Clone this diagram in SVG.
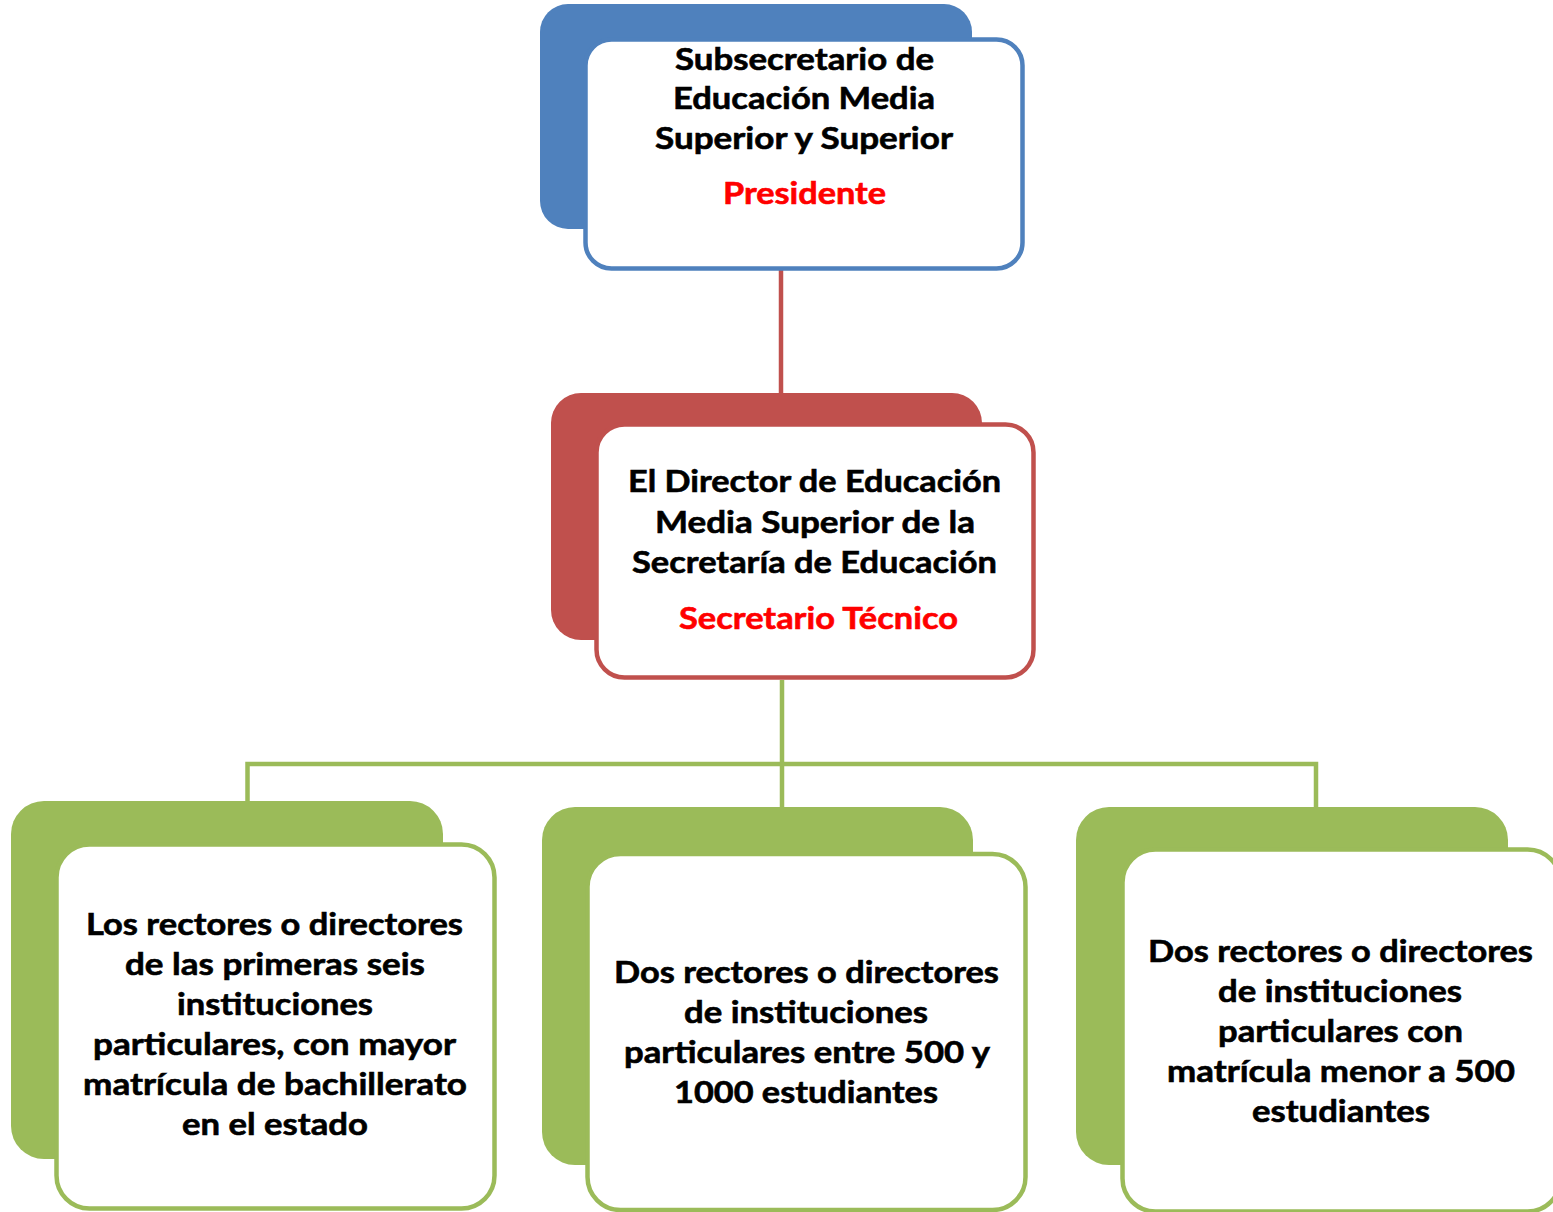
<svg xmlns="http://www.w3.org/2000/svg" width="1553" height="1212" viewBox="0 0 1553 1212">
<style>
.t{font-family:Lato,"Open Sans","Liberation Sans",sans-serif;font-weight:700;font-size:31px;fill:#000;stroke:#000;stroke-width:0.6}
.r{fill:#FF0000;stroke:#FF0000}
.front{fill:#fff;stroke-width:4.5}
.blue{fill:#4F81BD}.bluS{stroke:#4F81BD}
.red{fill:#C0504D}.redS{stroke:#C0504D}
.grn{fill:#9BBB59}.grnS{stroke:#9BBB59}
.conn{fill:none;stroke-width:4.5}
</style>
<rect width="1553" height="1212" fill="#fff"/>
<g id="connectors">
<path class="conn redS" d="M781,270 V393"/>
<path class="conn grnS" d="M247.5,801 V764 H1316 V807 M782,680 V807"/>
</g>
<g id="node-presidente">
<rect class="blue" x="540" y="4" width="432" height="225" rx="28"/>
<rect class="front bluS" x="585.5" y="39.5" width="437" height="229" rx="26"/>
<text class="t" x="675" y="70" textLength="259" lengthAdjust="spacingAndGlyphs">Subsecretario de</text>
<text class="t" x="673" y="109" textLength="262" lengthAdjust="spacingAndGlyphs">Educación Media</text>
<text class="t" x="655" y="149" textLength="298" lengthAdjust="spacingAndGlyphs">Superior y Superior</text>
<text class="t r" x="723" y="204" textLength="163" lengthAdjust="spacingAndGlyphs">Presidente</text>
</g>
<g id="node-secretario">
<rect class="red" x="551" y="393" width="431" height="247" rx="30"/>
<rect class="front redS" x="596.5" y="424.5" width="437" height="253" rx="28"/>
<text class="t" x="628" y="492" textLength="373" lengthAdjust="spacingAndGlyphs">El Director de Educación</text>
<text class="t" x="655" y="533" textLength="320" lengthAdjust="spacingAndGlyphs">Media Superior de la</text>
<text class="t" x="632" y="573" textLength="365" lengthAdjust="spacingAndGlyphs">Secretaría de Educación</text>
<text class="t r" x="679" y="629" textLength="279" lengthAdjust="spacingAndGlyphs">Secretario Técnico</text>
</g>
<g id="node-seis">
<rect class="grn" x="11" y="801" width="432" height="358" rx="33"/>
<rect class="front grnS" x="56.5" y="844.5" width="438" height="364" rx="33"/>
<text class="t" x="86" y="935" textLength="377" lengthAdjust="spacingAndGlyphs">Los rectores o directores</text>
<text class="t" x="125" y="975" textLength="300" lengthAdjust="spacingAndGlyphs">de las primeras seis</text>
<text class="t" x="177" y="1015" textLength="196" lengthAdjust="spacingAndGlyphs">instituciones</text>
<text class="t" x="93" y="1055" textLength="363" lengthAdjust="spacingAndGlyphs">particulares, con mayor</text>
<text class="t" x="83" y="1095" textLength="384" lengthAdjust="spacingAndGlyphs">matrícula de bachillerato</text>
<text class="t" x="182" y="1135" textLength="186" lengthAdjust="spacingAndGlyphs">en el estado</text>
</g>
<g id="node-entre">
<rect class="grn" x="542" y="807" width="431" height="358" rx="33"/>
<rect class="front grnS" x="587.5" y="854" width="438" height="356" rx="33"/>
<text class="t" x="614" y="983" textLength="385" lengthAdjust="spacingAndGlyphs">Dos rectores o directores</text>
<text class="t" x="684" y="1023" textLength="244" lengthAdjust="spacingAndGlyphs">de instituciones</text>
<text class="t" x="624" y="1063" textLength="366" lengthAdjust="spacingAndGlyphs">particulares entre 500 y</text>
<text class="t" x="674" y="1103" textLength="264" lengthAdjust="spacingAndGlyphs">1000 estudiantes</text>
</g>
<g id="node-menor">
<rect class="grn" x="1076" y="807" width="432" height="358" rx="33"/>
<rect class="front grnS" x="1122.5" y="849.5" width="438" height="362" rx="33"/>
<text class="t" x="1148" y="962" textLength="385" lengthAdjust="spacingAndGlyphs">Dos rectores o directores</text>
<text class="t" x="1218" y="1002" textLength="244" lengthAdjust="spacingAndGlyphs">de instituciones</text>
<text class="t" x="1218" y="1042" textLength="245" lengthAdjust="spacingAndGlyphs">particulares con</text>
<text class="t" x="1167" y="1082" textLength="348" lengthAdjust="spacingAndGlyphs">matrícula menor a 500</text>
<text class="t" x="1252" y="1122" textLength="178" lengthAdjust="spacingAndGlyphs">estudiantes</text>
</g>
</svg>
